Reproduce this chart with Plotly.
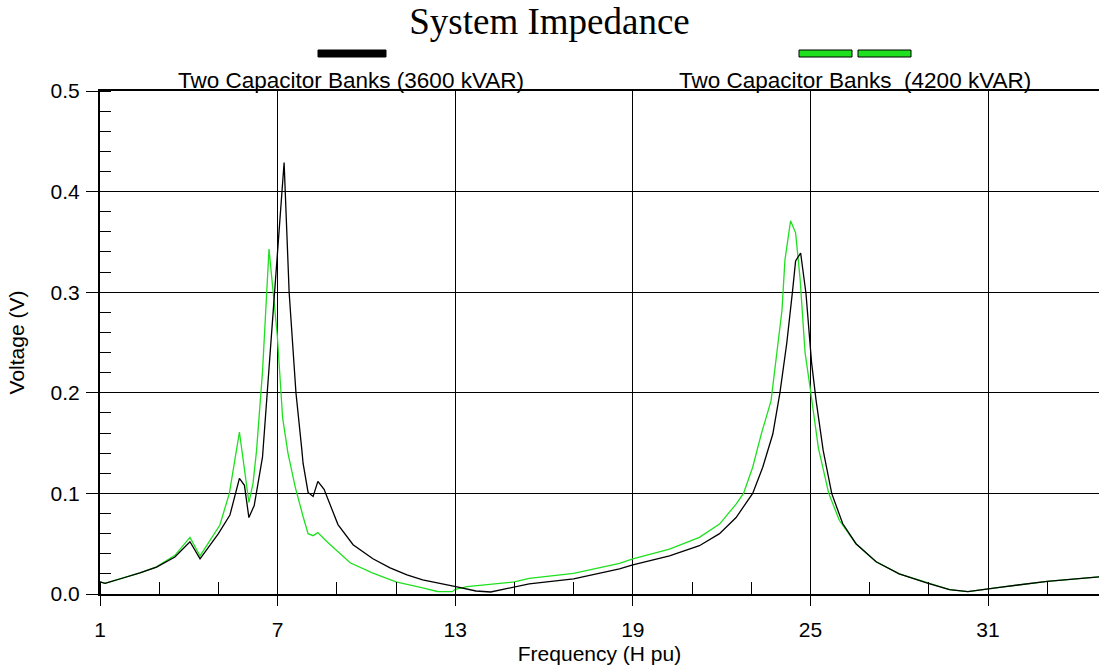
import plotly.graph_objects as go

# ---- data ----
freq_3600 = [1.0, 1.17, 1.78, 2.35, 2.91, 3.53, 4.04, 4.38, 5.0, 5.39, 5.71, 5.88, 6.03, 6.21,
             6.49, 7.22, 7.39, 7.62, 7.82, 7.86, 8.03, 8.2, 8.36, 8.57, 9.04, 9.55, 10.22,
             10.8, 11.37, 11.9, 13.06, 13.7, 14.2, 15.0, 15.5, 17.0, 18.55, 19.0, 20.24,
             21.25, 21.93, 22.49, 23.05, 23.39, 23.73, 23.97, 24.2, 24.4, 24.5, 24.67,
             24.85, 25.04, 25.19, 25.43, 25.72, 26.09, 26.54, 27.22, 28.0, 28.98, 29.7,
             30.32, 31.0, 31.39, 33.0, 34.75]
volt_3600 = [0.012, 0.0106, 0.0159, 0.0209, 0.0268, 0.0368, 0.052, 0.035, 0.060, 0.0785, 0.115,
             0.108, 0.076, 0.088, 0.136, 0.429, 0.300, 0.200, 0.143, 0.130, 0.101, 0.097,
             0.112, 0.104, 0.069, 0.049, 0.035, 0.026, 0.019, 0.014, 0.007, 0.003, 0.002,
             0.0068, 0.010, 0.015, 0.025, 0.029, 0.038, 0.048, 0.060, 0.076, 0.100, 0.126,
             0.159, 0.200, 0.249, 0.302, 0.331, 0.339, 0.299, 0.230, 0.193, 0.143, 0.100,
             0.070, 0.050, 0.032, 0.020, 0.0106, 0.0043, 0.0023, 0.0047, 0.0066, 0.0126,
             0.017]

freq_4200 = [1.0, 1.17, 1.78, 2.35, 2.91, 3.53, 4.04, 4.38, 5.05, 5.37, 5.71, 6.03, 6.17,
             6.29, 6.49, 6.65, 6.71, 6.99, 7.17, 7.35, 7.59, 7.86, 8.03, 8.2, 8.36, 8.67,
             9.45, 10.2, 11.0, 11.9, 12.4, 12.9, 13.0, 13.4, 15.0, 15.5, 17.0, 18.55, 19.0,
             20.24, 21.25, 21.93, 22.49, 22.74, 23.05, 23.34, 23.67, 24.04, 24.14, 24.33,
             24.5, 24.65, 24.82, 25.0, 25.27, 25.62, 25.98, 26.54, 27.22, 28.0, 28.98,
             29.7, 30.32, 31.0, 31.39, 33.0, 34.75]
volt_4200 = [0.012, 0.0106, 0.016, 0.021, 0.027, 0.0384, 0.0563, 0.0378, 0.0686, 0.100, 0.161,
             0.091, 0.110, 0.143, 0.221, 0.307, 0.343, 0.257, 0.175, 0.140, 0.107, 0.077,
             0.060, 0.058, 0.061, 0.052, 0.031, 0.021, 0.012, 0.006, 0.0025, 0.0023, 0.0047,
             0.0073, 0.012, 0.0156, 0.0205, 0.0305, 0.0348, 0.0447, 0.0563, 0.0695, 0.0894,
             0.100, 0.126, 0.159, 0.192, 0.282, 0.332, 0.371, 0.359, 0.314, 0.240, 0.203,
             0.145, 0.100, 0.073, 0.050, 0.032, 0.020, 0.0106, 0.0043, 0.0023, 0.0047,
             0.0066, 0.0126, 0.017]

x_ticks = [1, 7, 13, 19, 25, 31]
y_ticks = [0.0, 0.1, 0.2, 0.3, 0.4, 0.5]
label_3600 = "Two Capacitor Banks (3600 kVAR)"
label_4200 = "Two Capacitor Banks \u00a0(4200 kVAR)"

GREEN = "#1ee01e"
SANS = "Liberation Sans, Arial, sans-serif"
SERIF = "Liberation Serif, Times New Roman, serif"

fig = go.Figure()
fig.add_trace(go.Scatter(x=freq_4200, y=volt_4200, mode="lines",
                         line=dict(color=GREEN, width=1.3), name=label_4200,
                         showlegend=False))
fig.add_trace(go.Scatter(x=freq_3600, y=volt_3600, mode="lines",
                         line=dict(color="black", width=1.3), name=label_3600,
                         showlegend=False))

W, H = 1099, 669
L, R, T, B = 100, 0, 91, 75
pw, ph = W - L - R, H - T - B


def px(xp):
    return (xp - L) / pw


def py(yp):
    return (H - B - yp) / ph


shapes = [
    dict(type="rect", xref="paper", yref="paper", x0=px(318), x1=px(386), y0=py(57), y1=py(50),
         fillcolor="black", line=dict(color="black", width=1)),
    dict(type="rect", xref="paper", yref="paper", x0=px(799), x1=px(852), y0=py(57), y1=py(50),
         fillcolor=GREEN, line=dict(color="black", width=1)),
    dict(type="rect", xref="paper", yref="paper", x0=px(858), x1=px(911), y0=py(57), y1=py(50),
         fillcolor=GREEN, line=dict(color="black", width=1)),
]

annotations = [
    dict(text=label_3600, xref="paper", yref="paper", x=px(351), y=py(80), showarrow=False,
         xanchor="center", yanchor="middle", font=dict(family=SANS, size=22.5, color="black")),
    dict(text=label_4200, xref="paper", yref="paper", x=px(855), y=py(80), showarrow=False,
         xanchor="center", yanchor="middle", font=dict(family=SANS, size=22.5, color="black")),
]

fig.update_layout(
    width=W, height=H, autosize=False,
    margin=dict(l=L, r=R, t=T, b=B, pad=0),
    paper_bgcolor="white", plot_bgcolor="white",
    title=dict(text="System Impedance", x=0.5, xref="container", xanchor="center",
               y=1 - 21 / H, yref="container", yanchor="middle",
               font=dict(family=SERIF, size=37, color="black")),
    shapes=shapes, annotations=annotations,
    showlegend=False,
)

fig.update_xaxes(
    range=[1, 34.75], tickvals=x_ticks, ticktext=[str(v) for v in x_ticks],
    ticks="outside", ticklen=10, tickwidth=1, tickcolor="black",
    showgrid=True, gridcolor="black", gridwidth=1,
    showline=True, linecolor="black", linewidth=2, mirror=True,
    zeroline=False, ticklabelstandoff=6,
    tickfont=dict(family=SANS, size=21, color="black"),
    title=dict(text="Frequency (H pu)", font=dict(family=SANS, size=21, color="black"), standoff=6),
    minor=dict(dtick=2, tick0=1, ticks="inside", ticklen=12, tickwidth=1, tickcolor="black",
               showgrid=False),
)
fig.update_yaxes(
    range=[0, 0.5], tickvals=y_ticks, ticktext=[f"{v:.1f}" for v in y_ticks],
    ticks="outside", ticklen=12, tickwidth=1, tickcolor="black",
    showgrid=True, gridcolor="black", gridwidth=1,
    showline=True, linecolor="black", linewidth=2, mirror=False,
    zeroline=False, ticklabelstandoff=2,
    tickfont=dict(family=SANS, size=21, color="black"),
    title=dict(text="Voltage (V)", font=dict(family=SANS, size=21, color="black"), standoff=20),
    minor=dict(dtick=0.02, tick0=0, ticks="inside", ticklen=11, tickwidth=1, tickcolor="black",
               showgrid=False),
)

fig.write_html("out.html")
